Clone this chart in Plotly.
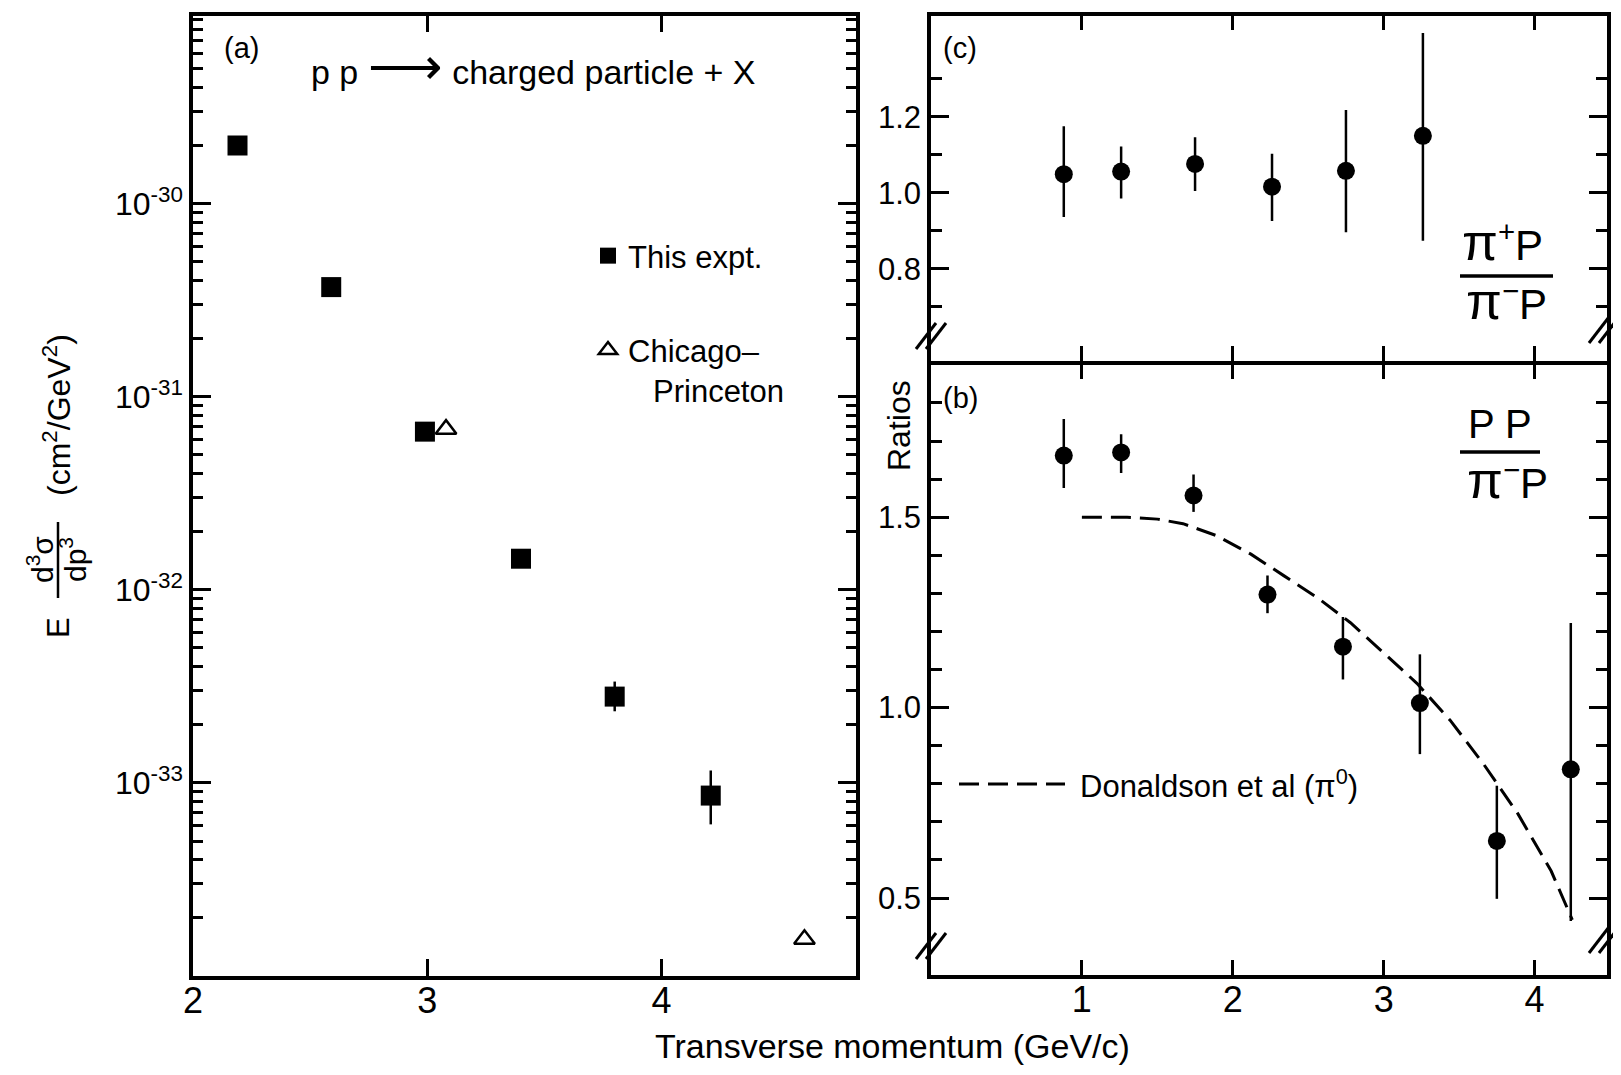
import plotly.graph_objects as go

# ---------------- data ----------------
# panel (a): invariant cross section vs pT
pt_expt = [2.19, 2.59, 2.99, 3.40, 3.80, 4.21]
xs_expt = [2.0e-30, 3.7e-31, 6.6e-32, 1.45e-32, 2.8e-33, 8.6e-34]
xs_expt_hi = [2.0e-30, 3.7e-31, 6.6e-32, 1.45e-32, 3.35e-33, 1.16e-33]
xs_expt_lo = [2.0e-30, 3.7e-31, 6.6e-32, 1.45e-32, 2.35e-33, 6.1e-34]

pt_cp = [3.08, 4.61]
xs_cp = [6.8e-32, 1.55e-34]

# panel (c): pi+ p / pi- p
pt_c = [0.88, 1.26, 1.75, 2.26, 2.75, 3.26]
r_c = [1.049, 1.056, 1.076, 1.016, 1.058, 1.150]
r_c_hi = [1.175, 1.122, 1.146, 1.103, 1.218, 1.421]
r_c_lo = [0.936, 0.985, 1.005, 0.926, 0.896, 0.874]

# panel (b): p p / pi- p
pt_b = [0.88, 1.26, 1.74, 2.23, 2.73, 3.24, 3.75, 4.24]
r_b = [1.662, 1.670, 1.557, 1.297, 1.160, 1.012, 0.650, 0.838]
r_b_hi = [1.758, 1.718, 1.612, 1.347, 1.238, 1.140, 0.795, 1.222]
r_b_lo = [1.577, 1.616, 1.514, 1.248, 1.074, 0.878, 0.498, 0.44]

# Donaldson et al (pi0) curve
don_x = [1.0, 1.3, 1.5, 1.67, 1.89, 2.12, 2.34, 2.56, 2.78, 3.0, 3.22, 3.44, 3.66, 3.89, 4.11, 4.25]
don_y = [1.5, 1.5, 1.495, 1.483, 1.452, 1.403, 1.346, 1.289, 1.223, 1.144, 1.064, 0.967, 0.853, 0.721, 0.571, 0.443]

# tick labels
a_x_ticks = [2, 3, 4]
a_y_ticks = [1e-30, 1e-31, 1e-32, 1e-33]
a_y_text = ["10<sup>-30</sup>", "10<sup>-31</sup>", "10<sup>-32</sup>", "10<sup>-33</sup>"]
r_x_ticks = [1, 2, 3, 4]
c_y_ticks = [0.8, 1.0, 1.2]
c_y_text = ["0.8", "1.0", "1.2"]
c_y_minor = [0.7, 0.9, 1.1, 1.3]
b_y_ticks = [0.5, 1.0, 1.5]
b_y_text = ["0.5", "1.0", "1.5"]
b_y_minor = [0.6, 0.7, 0.8, 0.9, 1.1, 1.2, 1.3, 1.4, 1.6, 1.7, 1.8]

# ---------------- layout helpers ----------------
PAGE_W, PAGE_H = 1621, 1075
OFF = 8                      # default body margin of the html page
W, H = PAGE_W - OFF, PAGE_H - OFF
FONT = "Liberation Sans, Arial, sans-serif"
BLACK = "black"


def fx(p):
    return (p - OFF) / W


def fy(p):
    return 1 - (p - OFF) / H


a_minor = []
for e in range(-34, -29):
    for k in range(2, 10):
        a_minor.append(k * 10.0 ** e)

fig = go.Figure()

# panel (a)
fig.add_trace(go.Scatter(
    x=pt_expt, y=xs_expt, mode="markers", name="This expt.",
    marker=dict(symbol="square", size=20, color=BLACK),
    error_y=dict(type="data", symmetric=False,
                 array=[h - v for h, v in zip(xs_expt_hi, xs_expt)],
                 arrayminus=[v - l for v, l in zip(xs_expt, xs_expt_lo)],
                 thickness=2.5, width=0, color=BLACK),
    xaxis="x", yaxis="y", legendgroup="g1", showlegend=True))
fig.add_trace(go.Scatter(
    x=pt_cp, y=xs_cp, mode="markers", name="Chicago\u2013",
    marker=dict(symbol="triangle-up-open", size=18, color=BLACK, line=dict(width=2.5, color=BLACK)),
    xaxis="x", yaxis="y", legendgroup="g2", showlegend=True))

# panel (c)
fig.add_trace(go.Scatter(
    x=pt_c, y=r_c, mode="markers",
    marker=dict(symbol="circle", size=18, color=BLACK),
    error_y=dict(type="data", symmetric=False,
                 array=[h - v for h, v in zip(r_c_hi, r_c)],
                 arrayminus=[v - l for v, l in zip(r_c, r_c_lo)],
                 thickness=2.5, width=0, color=BLACK),
    xaxis="x2", yaxis="y2", showlegend=False))

# panel (b)
fig.add_trace(go.Scatter(
    x=don_x, y=don_y, mode="lines",
    line=dict(color=BLACK, width=3, dash="20px,9px"),
    xaxis="x3", yaxis="y3", showlegend=False))
fig.add_trace(go.Scatter(
    x=pt_b, y=r_b, mode="markers",
    marker=dict(symbol="circle", size=18, color=BLACK),
    error_y=dict(type="data", symmetric=False,
                 array=[h - v for h, v in zip(r_b_hi, r_b)],
                 arrayminus=[v - l for v, l in zip(r_b, r_b_lo)],
                 thickness=2.5, width=0, color=BLACK),
    xaxis="x3", yaxis="y3", showlegend=False))

axis_common = dict(showline=True, linewidth=3.5, linecolor=BLACK, ticks="inside",
                   tickwidth=2.5, tickcolor=BLACK, showgrid=False, zeroline=False,
                   automargin=False,
                   tickfont=dict(family=FONT, size=36, color=BLACK))

fig.update_layout(
    width=W, height=H, margin=dict(l=0, r=0, t=0, b=0, autoexpand=False),
    paper_bgcolor="white", plot_bgcolor="white",
    font=dict(family=FONT, color=BLACK),
    xaxis=dict(axis_common, domain=[fx(193), fx(856)], range=[2, 4.83], anchor="y",
               tickmode="array", tickvals=a_x_ticks, ticklen=17, mirror="ticks",
               ticklabelstandoff=-10),
    yaxis=dict(axis_common, type="log", domain=[fy(976), fy(15.5)], range=[-34.0, -29.025],
               anchor="x", tickmode="array", tickvals=a_y_ticks, ticktext=a_y_text,
               ticklen=18, mirror="allticks", tickfont=dict(family=FONT, size=32, color=BLACK),
               minor=dict(tickvals=a_minor, ticks="inside", ticklen=10, tickwidth=2.5,
                          tickcolor=BLACK, showgrid=False)),
    xaxis2=dict(axis_common, domain=[fx(931), fx(1607)], range=[0, 4.48], anchor="y2",
                tickmode="array", tickvals=r_x_ticks, ticklen=15, mirror="ticks",
                showticklabels=False),
    yaxis2=dict(axis_common, domain=[fy(361), fy(15.5)], range=[0.557, 1.467], anchor="x2",
                tickmode="array", tickvals=c_y_ticks, ticktext=c_y_text, ticklen=18,
                mirror="allticks", tickfont=dict(family=FONT, size=31, color=BLACK),
                minor=dict(tickvals=c_y_minor, ticks="inside", ticklen=11, tickwidth=2.5,
                           tickcolor=BLACK, showgrid=False)),
    xaxis3=dict(axis_common, domain=[fx(931), fx(1607)], range=[0, 4.48], anchor="y3",
                tickmode="array", tickvals=r_x_ticks, ticklen=15, mirror="ticks",
                ticklabelstandoff=-10),
    yaxis3=dict(axis_common, domain=[fy(975), fy(364.5)], range=[0.298, 1.901], anchor="x3",
                tickmode="array", tickvals=b_y_ticks, ticktext=b_y_text, ticklen=18,
                mirror="allticks", tickfont=dict(family=FONT, size=31, color=BLACK),
                minor=dict(tickvals=b_y_minor, ticks="inside", ticklen=11, tickwidth=2.5,
                           tickcolor=BLACK, showgrid=False)),
    legend=dict(x=fx(588), y=fy(229), xanchor="left", yanchor="top",
                bgcolor="rgba(0,0,0,0)", font=dict(family=FONT, size=31, color=BLACK),
                tracegroupgap=51, itemsizing="trace"),
)

ann = []


def text(x, y, s, size, xanchor="center", angle=0, family=FONT):
    ann.append(dict(x=fx(x), y=fy(y), xref="paper", yref="paper", text=s, showarrow=False,
                    xanchor=xanchor, yanchor="middle", textangle=angle,
                    font=dict(family=family, size=size, color=BLACK)))


PI = "<span style='font-size:52px'>\u03c0</span>"

text(241, 48, "(a)", 29)
text(309, 66, "p p <span style='font-size:52px'>\u27f6</span> charged particle + X", 34,
     xanchor="left")
text(651, 391, "Princeton", 31, xanchor="left")
text(960, 48, "(c)", 29)
text(960, 398, "(b)", 29)
text(899, 426, "Ratios", 32, angle=-90)
text(1502, 242, PI + "<sup>+</sup>P", 42)
text(1506, 301, PI + "<sup>\u2212</sup>P", 42)
text(1500, 424, "P P", 40)
text(1507, 480, PI + "<sup>\u2212</sup>P", 42)
text(1078, 784, "Donaldson et al (\u03c0<sup>0</sup>)", 31, xanchor="left")
text(892, 1046, "Transverse momentum (GeV/c)", 34)
# y label of panel (a)
text(57, 415, "(cm<sup>2</sup>/GeV<sup>2</sup>)", 32, angle=-90)
text(58, 628, "E", 31, angle=-90)
text(40, 560, "d<sup>3</sup>\u03c3", 30, angle=-90)
text(73, 560, "dp<sup>3</sup>", 30, angle=-90)

shapes = []


def seg(x0, y0, x1, y1, w=3, dash=None):
    shapes.append(dict(type="line", xref="paper", yref="paper", x0=fx(x0), y0=fy(y0),
                       x1=fx(x1), y1=fy(y1), line=dict(color=BLACK, width=w, dash=dash)))


# fraction bars
seg(58, 522, 58, 598, 2.5)
seg(1460, 276, 1553, 276, 3.5)
seg(1460, 452, 1540, 452, 3.5)
# legend key for Donaldson curve
seg(959, 784, 1065, 784, 3, "20px,9px")
# axis break marks
for cx, cy in [(931, 336), (1604, 330), (931, 946), (1604, 940)]:
    for off in (-5, 5):
        seg(cx - 10 + off, cy + 13, cx + 10 + off, cy - 13, 3)

fig.update_layout(annotations=ann, shapes=shapes)

fig.write_html("out.html")
